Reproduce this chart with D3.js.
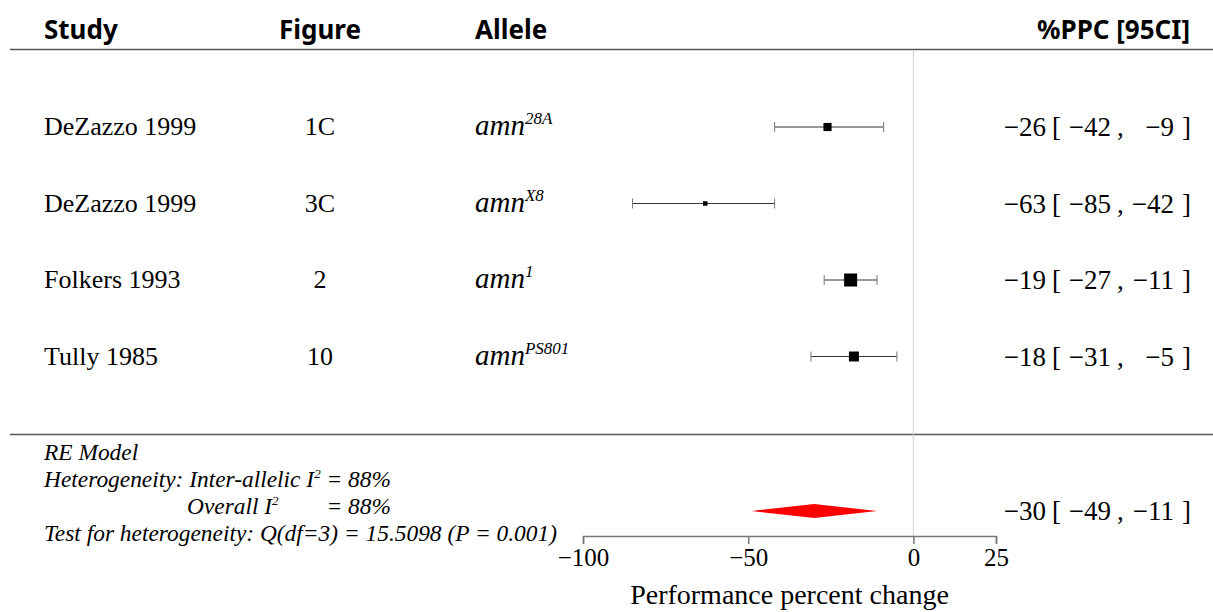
<!DOCTYPE html>
<html>
<head>
<meta charset="utf-8">
<script src="https://cdn.jsdelivr.net/npm/d3@7"></script>
<style>
  body { margin: 0; background: #fff; }
  .serif { font-family: "Liberation Serif", "Times New Roman", serif; }
  .head { font-family: "Noto Sans", sans-serif; font-weight: bold; }
</style>
</head>
<body>
<svg id="chartSvg" width="1213" height="612"></svg>
<script>
// Study data
const studies = ["DeZazzo 1999", "DeZazzo 1999", "Folkers 1993", "Tully 1985"];
const figures = ["1C", "3C", "2", "10"];
const alleleSup = ["28A", "X8", "1", "PS801"];
const estimates = [-26, -63, -19, -18];
const lowers = [-42, -85, -27, -31];
const uppers = [-9, -42, -11, -5];
const weights = [23, 17, 31, 26]; // relative box sizes (estimated)

// RE model summary
const summaryEst = -30;
const summaryLo = -49;
const summaryHi = -11;

const xTicks = [-100, -50, 0, 25];

const svg = d3.select("#chartSvg");
const fmt = d3.format("d");

// Scales
const x = d3.scaleLinear().domain([-100, 25]).range([583, 996]);
const y = d3.scaleLinear().domain([0, studies.length - 1]).range([127, 356.5]);
const boxSize = d3.scaleLinear().domain(d3.extent(weights)).range([4.5, 13]);

const rows = studies.map((s, i) => ({
    study: s, fig: figures[i], sup: alleleSup[i],
    est: estimates[i], lo: lowers[i], hi: uppers[i], w: weights[i]
}));

// Header
const head = svg.append("g").attr("class", "head").attr("font-size", 26);
head.append("text").attr("x", 44).attr("y", 39).text("Study");
head.append("text").attr("x", 320).attr("y", 39).attr("text-anchor", "middle").text("Figure");
head.append("text").attr("x", 475).attr("y", 39).text("Allele");
head.append("text").attr("x", 1190).attr("y", 39).attr("text-anchor", "end").text("%PPC [95CI]");

// Horizontal separators
svg.append("line").attr("x1", 10).attr("x2", 1213).attr("y1", 49.5).attr("y2", 49.5)
    .attr("stroke", "#555").attr("stroke-width", 1.5);
svg.append("line").attr("x1", 10).attr("x2", 1213).attr("y1", 434.5).attr("y2", 434.5)
    .attr("stroke", "#555").attr("stroke-width", 1.5);

// Reference line at zero
svg.append("line").attr("x1", x(0)).attr("x2", x(0)).attr("y1", 50).attr("y2", 536)
    .attr("stroke", "#d0d0d0").attr("stroke-width", 1);

// Row labels
const rowG = svg.selectAll("g.row").data(rows).enter().append("g")
    .attr("class", "row serif")
    .attr("transform", (d, i) => `translate(0, ${y(i)})`);

rowG.append("text").attr("x", 44).attr("y", 8).attr("font-size", 26).text(d => d.study);
rowG.append("text").attr("x", 320).attr("y", 8).attr("font-size", 26)
    .attr("text-anchor", "middle").text(d => d.fig);
const allele = rowG.append("text").attr("x", 475).attr("y", 8).attr("font-size", 29)
    .attr("font-style", "italic");
allele.append("tspan").text("amn");
allele.append("tspan").attr("font-size", 17).attr("dy", -11).text(d => d.sup);

// CI lines and whisker ends
rowG.append("line").attr("x1", d => x(d.lo)).attr("x2", d => x(d.hi)).attr("y1", 0).attr("y2", 0)
    .attr("stroke", "#333").attr("stroke-width", 1);
rowG.append("line").attr("x1", d => x(d.lo)).attr("x2", d => x(d.lo)).attr("y1", -5).attr("y2", 5)
    .attr("stroke", "#777");
rowG.append("line").attr("x1", d => x(d.hi)).attr("x2", d => x(d.hi)).attr("y1", -5).attr("y2", 5)
    .attr("stroke", "#777");
rowG.append("rect")
    .attr("x", d => x(d.est) - boxSize(d.w) / 2)
    .attr("y", d => -boxSize(d.w) / 2)
    .attr("width", d => boxSize(d.w))
    .attr("height", d => boxSize(d.w))
    .attr("fill", "#000");

// Right-hand annotation: est [ lo , hi ]
function annotate(g, est, lo, hi) {
    g.append("text").attr("x", 1046).attr("text-anchor", "end").text(fmt(est));
    g.append("text").attr("x", 1052).text("[");
    g.append("text").attr("x", 1111).attr("text-anchor", "end").text(fmt(lo));
    g.append("text").attr("x", 1117).text(",");
    g.append("text").attr("x", 1174).attr("text-anchor", "end").text(fmt(hi));
    g.append("text").attr("x", 1182).text("]");
}
rowG.each(function(d) {
    const g = d3.select(this).append("g").attr("font-size", 27).attr("transform", "translate(0, 9)");
    annotate(g, d.est, d.lo, d.hi);
});

// Summary diamond
const yS = 511;
svg.append("polygon")
    .attr("points", [[x(summaryLo), yS], [x(summaryEst), yS - 7], [x(summaryHi), yS], [x(summaryEst), yS + 7]]
        .map(p => p.join(",")).join(" "))
    .attr("fill", "red");
const sumG = svg.append("g").attr("class", "serif").attr("font-size", 27)
    .attr("transform", `translate(0, ${yS + 9})`);
annotate(sumG, summaryEst, summaryLo, summaryHi);

// Model text
const model = svg.append("g").attr("class", "serif").attr("font-size", 23.4).attr("font-style", "italic");
model.append("text").attr("x", 44).attr("y", 460).text("RE Model");
const het = model.append("text").attr("x", 44).attr("y", 487);
het.append("tspan").text("Heterogeneity: Inter-allelic I");
het.append("tspan").attr("font-size", 13).attr("dy", -9).text("2");
het.append("tspan").attr("dy", 9).text(" = 88%");
// align the second "= 88%" under the first one
const eqX = het.node().getStartPositionOfChar(het.text().indexOf("=")).x;
const ov = model.append("text").attr("x", 187).attr("y", 514);
ov.append("tspan").text("Overall I");
ov.append("tspan").attr("font-size", 13).attr("dy", -9).text("2");
model.append("text").attr("x", eqX).attr("y", 514).text("= 88%");
model.append("text").attr("x", 44).attr("y", 541)
    .text("Test for heterogeneity: Q(df=3) = 15.5098 (P = 0.001)");

// X axis
const axis = svg.append("g").attr("class", "serif")
    .attr("transform", "translate(0, 536)")
    .call(d3.axisBottom(x).tickValues(xTicks).tickFormat(fmt).tickSizeOuter(0).tickSize(8).tickPadding(4));
axis.select(".domain").attr("stroke", "#777").attr("stroke-width", 1.5);
axis.selectAll(".tick line").attr("stroke", "#777").attr("stroke-width", 1.5);
axis.selectAll(".tick text").attr("font-size", 25).attr("fill", "#000")
    .attr("font-family", "Liberation Serif, serif");

svg.append("text").attr("class", "serif")
    .attr("x", (x(-100) + x(25)) / 2).attr("y", 604)
    .attr("text-anchor", "middle").attr("font-size", 28)
    .text("Performance percent change");
</script>
</body>
</html>
